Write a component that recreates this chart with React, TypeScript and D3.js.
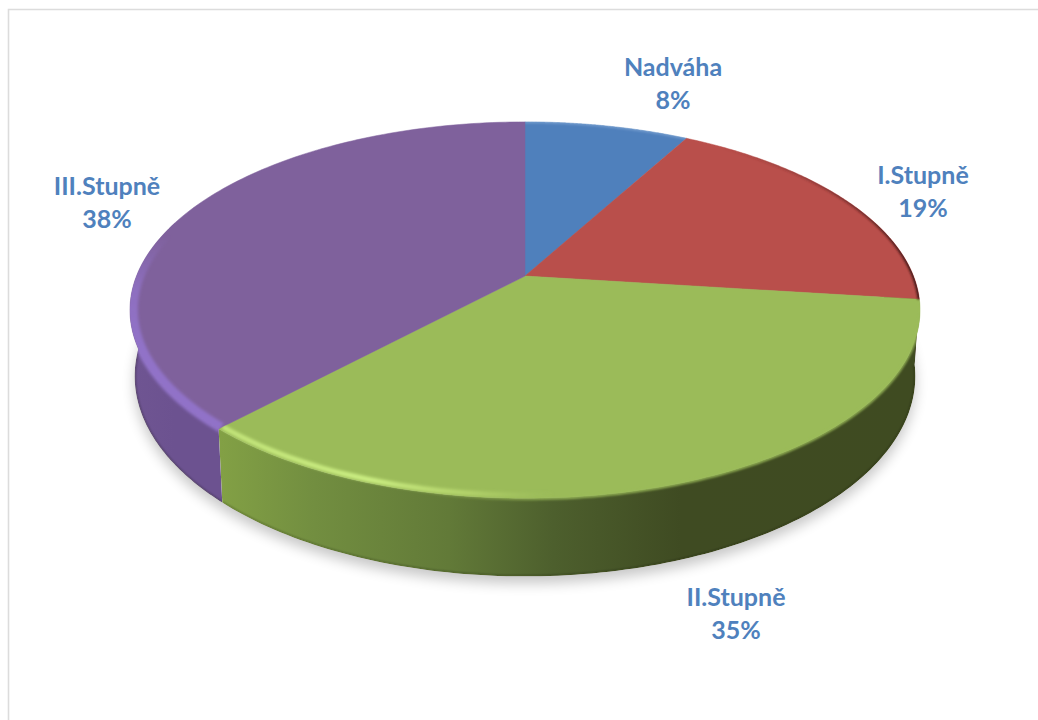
import React from "react";
import * as d3 from "d3";

// Obesity class shares, clockwise from twelve o'clock
const categories = ["Nadváha", "I.Stupně", "II.Stupně", "III.Stupně"];
const shares = [8, 19, 35, 38];
const faceColors = ["#4f80bc", "#b94f4b", "#9bbb59", "#7f619c"];

const WIDTH = 1038;
const HEIGHT = 720;

// Perspective view of the disc: unit-circle coordinates map to screen through a tilt
const cx = 525;
const apexY = 276;
const radiusX = 388.5;
const radiusY = 182;
const tilt = 0.181;
const thickness = 64;

type Pt = [number, number];

function projectTop(angle: number, r = 1): Pt {
  const u = Math.sin(angle) * r;
  const v = -Math.cos(angle) * r;
  const w = 1 - tilt * v;
  return [cx + (radiusX * u) / w, apexY + (radiusY * v) / w];
}

function projectBottom(angle: number): Pt {
  const u = Math.sin(angle);
  const v = -Math.cos(angle);
  const w = 1 - tilt * v;
  return [cx + (radiusX * u) / (w * 1.012), apexY + (radiusY * v + thickness) / w];
}

const arcAngles = (a0: number, a1: number, r = 1) =>
  d3.range(0, 121).map((i) => projectTop(a0 + ((a1 - a0) * i) / 120, r));

const lineGen = d3.line<Pt>();

const pieArcs = d3
  .pie<number>()
  .sort(null)
  .value((d) => d)(shares);

const fullCircle = 2 * Math.PI;
const baseLoop =
  lineGen(d3.range(0, 181).map((i) => projectBottom((fullCircle * i) / 180)))! + "Z";

function wedgePath(a0: number, a1: number) {
  return lineGen([[cx, apexY], ...arcAngles(a0, a1)])! + "Z";
}

// Front wall of a slice, clamped to the part of the disc that faces the viewer
const frontRange = (a0: number, a1: number): [number, number] => [
  Math.max(a0, Math.PI * 0.4),
  Math.min(a1, Math.PI * 1.6),
];

function wallPath(a0: number, a1: number) {
  const [front0, front1] = frontRange(a0, a1);
  if (front1 <= front0) return null;
  const steps = d3.range(0, 121).map((i) => front0 + ((front1 - front0) * i) / 120);
  const upper = steps.map((a) => projectTop(a));
  const lower = steps.map((a) => projectBottom(a)).reverse();
  return lineGen([...upper, ...lower])! + "Z";
}

function baseEdgePath(a0: number, a1: number) {
  const [front0, front1] = frontRange(a0, a1);
  if (front1 <= front0) return null;
  return lineGen(
    d3.range(0, 121).map((i) => projectBottom(front0 + ((front1 - front0) * i) / 120))
  );
}

// Bevel colour along each slice's rim
const bevelStops: [number, string, number][][] = [
  [[0, "#b8d0ee", 0.35], [1, "#b8d0ee", 0.35]],
  [[0, "#7c2f2d", 0], [0.5, "#6c2a28", 0.55], [1, "#3c1514", 1]],
  [[0, "#c6e87c", 0.9], [0.22, "#cbee82", 1], [0.36, "#bcdc72", 0.7], [0.48, "#a8c964", 0]],
  [[0, "#9172c8", 0], [0.5, "#9172c8", 0.8], [1, "#9172c8", 1]],
];

// Gradient axis of each bevel: horizontal, except the left slice which fades in downward
const bevelAxes = [
  { x1: 525, x2: 692, y1: 0, y2: 0 },
  { x1: 720, x2: 920, y1: 0, y2: 0 },
  { x1: 216, x2: 920, y1: 0, y2: 0 },
  { x1: 0, x2: 0, y1: 235, y2: 345 },
];

const bevelInset = [1, 1, 0.988, 0.993];
const bevelWidth = [2.5, 3.5, 5, 10];
const bevelBlur = ["thin", "thin", "tight", "tight"];

const wallStops: [number, string][][] = [
  [[0, "#38497a"], [1, "#38497a"]],
  [[0, "#3f1a18"], [1, "#3f1a18"]],
  [
    [0, "#83a145"],
    [0.14, "#728e40"],
    [0.33, "#627a38"],
    [0.48, "#4d5f2d"],
    [0.66, "#3f4b22"],
    [1, "#3f4b21"],
  ],
  [[0, "#6f5592"], [0.5, "#6c5290"], [1, "#6c5290"]],
];

const labelCenters: Pt[] = [
  [673, 68],
  [923, 176],
  [736, 598],
  [107, 187],
];

const greenIndex = 2;

export default function App() {
  const green = pieArcs[greenIndex];
  return (
    <svg
      width={WIDTH}
      height={HEIGHT}
      viewBox={`0 0 ${WIDTH} ${HEIGHT}`}
      style={{ position: "absolute", left: 0, top: 0, display: "block", background: "#fff" }}
    >
      <defs>
        <filter id="soft-shadow" x="-10%" y="-10%" width="120%" height="125%">
          <feGaussianBlur stdDeviation="6.5" />
        </filter>
        <filter id="tight" x="-5%" y="-5%" width="110%" height="110%">
          <feGaussianBlur stdDeviation="1.7" />
        </filter>
        <filter id="thin" x="-5%" y="-5%" width="110%" height="110%">
          <feGaussianBlur stdDeviation="1.1" />
        </filter>
        <linearGradient id="rim-soft" gradientUnits="userSpaceOnUse" x1={420} x2={560} y1={0} y2={0}>
          <stop offset={0} stopColor={faceColors[greenIndex]} stopOpacity={0} />
          <stop offset={1} stopColor={faceColors[greenIndex]} stopOpacity={0.85} />
        </linearGradient>
        {pieArcs.map((arc, i) => (
          <clipPath id={`face-${i}`} key={i}>
            <path d={wedgePath(arc.startAngle, arc.endAngle)} />
          </clipPath>
        ))}
        {pieArcs.map((arc, i) => {
          const wall = wallPath(arc.startAngle, arc.endAngle);
          return (
            <clipPath id={`body-${i}`} key={i}>
              <path d={wedgePath(arc.startAngle, arc.endAngle)} />
              {wall && <path d={wall} />}
            </clipPath>
          );
        })}
        {bevelStops.map((stops, i) => (
          <linearGradient id={`bevel-${i}`} key={i} gradientUnits="userSpaceOnUse" {...bevelAxes[i]}>
            {stops.map(([o, c, a], j) => (
              <stop key={j} offset={o} stopColor={c} stopOpacity={a} />
            ))}
          </linearGradient>
        ))}
        {wallStops.map((stops, i) => (
          <linearGradient
            id={`wall-${i}`}
            key={i}
            gradientUnits="userSpaceOnUse"
            x1={i === 3 ? 130 : 216}
            x2={i === 3 ? 220 : 920}
            y1={0}
            y2={0}
          >
            {stops.map(([o, c], j) => (
              <stop key={j} offset={o} stopColor={c} />
            ))}
          </linearGradient>
        ))}
      </defs>

      {/* Chart frame: only the top and left edges fall inside the view */}
      <path d="M1038 9.5H8.5V720" fill="none" stroke="#dcdcdc" strokeWidth={1.6} />

      {/* Ground shadow */}
      <path
        d={baseLoop}
        fill="#000"
        opacity={0.22}
        transform="translate(0 7)"
        filter="url(#soft-shadow)"
      />

      {/* Walls with a darker foot */}
      {pieArcs.map((arc, i) => {
        const d = wallPath(arc.startAngle, arc.endAngle);
        const foot = baseEdgePath(arc.startAngle, arc.endAngle);
        return d ? (
          <g key={i} clipPath={`url(#body-${i})`}>
            <path d={d} fill={`url(#wall-${i})`} />
            {foot && (
              <path
                d={foot}
                fill="none"
                stroke="#1c2410"
                strokeOpacity={0.28}
                strokeWidth={2.5}
                filter="url(#thin)"
              />
            )}
          </g>
        ) : null;
      })}

      {/* Slice faces */}
      {pieArcs.map((arc, i) => (
        <path
          key={i}
          d={wedgePath(arc.startAngle, arc.endAngle)}
          fill={faceColors[i]}
          stroke={faceColors[i]}
          strokeWidth={0.5}
        />
      ))}

      {/* Soft transition from the green face into its dark wall on the right */}
      <g clipPath={`url(#body-${greenIndex})`}>
        <path
          d={lineGen(arcAngles(green.startAngle, green.endAngle, 1.0))!}
          fill="none"
          stroke="url(#rim-soft)"
          strokeWidth={3}
          filter="url(#thin)"
          transform="translate(0 0.5)"
        />
      </g>

      {/* Rim bevel highlights and shading */}
      {pieArcs.map((arc, i) => (
        <g key={i} clipPath={`url(#body-${i})`}>
          <path
            d={lineGen(arcAngles(arc.startAngle, arc.endAngle, bevelInset[i]))!}
            fill="none"
            stroke={`url(#bevel-${i})`}
            strokeWidth={bevelWidth[i]}
            filter={`url(#${bevelBlur[i]})`}
          />
        </g>
      ))}

      {categories.map((name, i) => (
        <text
          key={name}
          x={labelCenters[i][0]}
          textAnchor="middle"
          fontFamily="Lato, sans-serif"
          fontWeight={700}
          fontSize={25}
          fill="#4f81bd"
        >
          <tspan x={labelCenters[i][0]} y={labelCenters[i][1] + 8}>
            {name}
          </tspan>
          <tspan x={labelCenters[i][0]} y={labelCenters[i][1] + 41}>
            {`${shares[i]}%`}
          </tspan>
        </text>
      ))}
    </svg>
  );
}
